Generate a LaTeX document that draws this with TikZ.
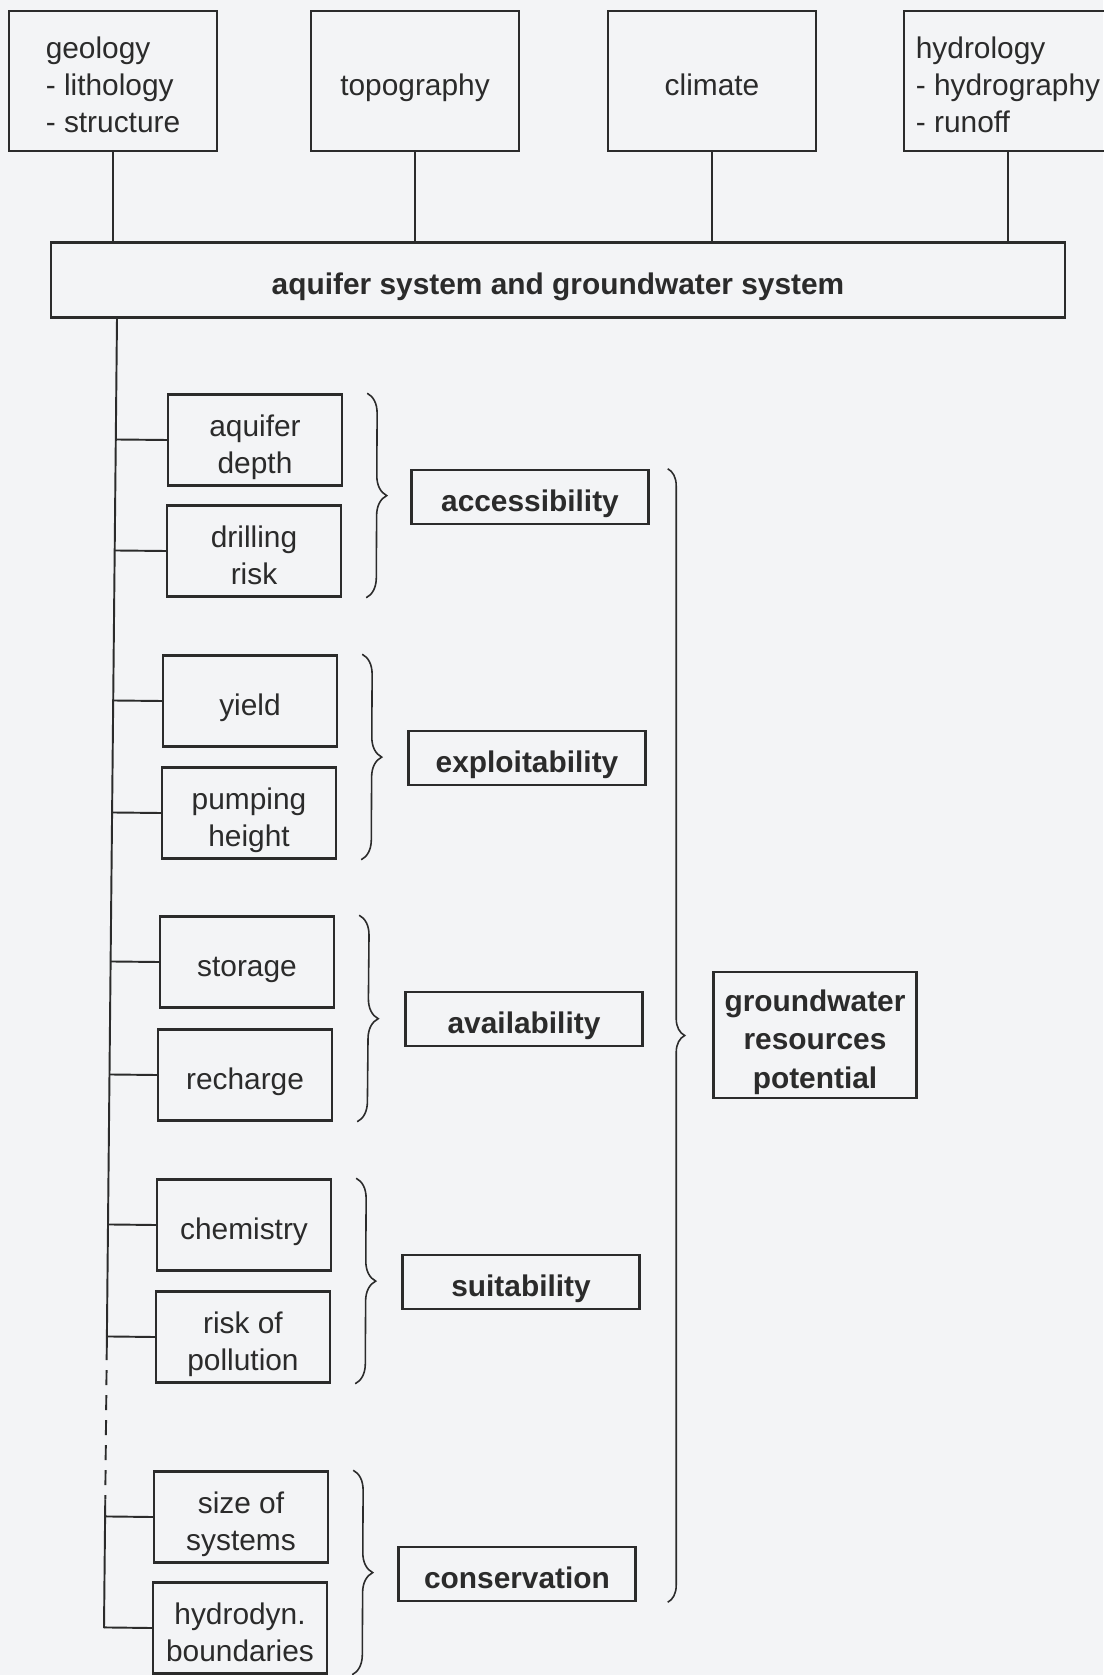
\documentclass[tikz,border=0pt]{standalone}
\usepackage{fontspec}
\setmainfont{Liberation Sans}
\usepackage{tikz}
\usetikzlibrary{calc,decorations.pathreplacing}
\definecolor{ink}{HTML}{2B2B2B}
\definecolor{paper}{HTML}{F3F4F6}
% struts: same baseline in every box
\newcommand{\lnup}{\rule{0pt}{20.4pt}}
\newcommand{\lndn}{\rule[-3.6pt]{0pt}{3.6pt}}
\tikzset{
  box/.style={draw=ink, line width=1.4pt, text=ink, inner sep=0pt, font=\fontsize{17}{21}\selectfont},
  topbox/.style={box, minimum width=4.16cm, minimum height=2.8cm, align=left},
  sysbox/.style={box, minimum width=20.28cm, minimum height=1.5cm, font=\fontsize{17}{21}\selectfont\bfseries},
  factor/.style={box, minimum width=3.48cm, minimum height=1.82cm, align=center},
  criterion/.style={box, minimum width=4.74cm, minimum height=1.08cm, font=\fontsize{17}{21}\selectfont\bfseries},
  result/.style={box, minimum width=4.06cm, minimum height=2.52cm, align=center, font=\fontsize{17}{22}\selectfont\bfseries},
  link/.style={draw=ink, line width=1.1pt},
  grpbrace/.style={draw=ink, line width=0.9pt, decorate, decoration={brace, amplitude=0.4cm}},
}

\begin{document}
\begin{tikzpicture}[x=0.02cm, y=-0.02cm]
\fill[paper] (0,0) rectangle (1103,1675);
\useasboundingbox (0,0) rectangle (1103,1675);

% influencing factors
\node[topbox] (geo) at (113,81) {\lnup geology\\- lithology\\- structure\lndn};
\node[topbox] (topo) at (415,81) {\lnup topography\lndn};
\node[topbox] (clim) at (712,81) {\lnup climate\lndn};
\node[topbox] (hydro) at (1008,81) {\lnup hydrology\\- hydrography\\- runoff\lndn};
\node[sysbox] (sys) at (558,280) {\lnup aquifer system and groundwater system\lndn};
\foreach \n in {geo,topo,clim,hydro}
  \draw[link] (\n.south) -- (\n.south |- sys.north);

% factors
\node[factor] (depth) at (255,440) {\lnup aquifer\\depth\lndn};
\node[factor] (drill) at (254,551) {\lnup drilling\\risk\lndn};
\node[factor] (yield) at (250,701) {\lnup yield\lndn};
\node[factor] (pump) at (249,813) {\lnup pumping\\height\lndn};
\node[factor] (stor) at (247,962) {\lnup storage\lndn};
\node[factor] (rech) at (245,1075) {\lnup recharge\lndn};
\node[factor] (chem) at (244,1225) {\lnup chemistry\lndn};
\node[factor] (poll) at (243,1337) {\lnup risk of\\pollution\lndn};
\node[factor] (size) at (241,1517) {\lnup size of\\systems\lndn};
\node[factor] (bound) at (240,1628) {\lnup hydrodyn.\\boundaries\lndn};

% criteria
\node[criterion] (acc) at (530,497) {\lnup accessibility\lndn};
\node[criterion] (expl) at (527,758) {\lnup exploitability\lndn};
\node[criterion] (avail) at (524,1019) {\lnup availability\lndn};
\node[criterion] (suit) at (521,1282) {\lnup suitability\lndn};
\node[criterion] (cons) at (517,1574) {\lnup conservation\lndn};
\node[result] (gwrp) at (815,1035) {\lnup groundwater\\resources\\potential\lndn};

% trunk line
\coordinate (trunktop) at (117,318);
\coordinate (trunkbot) at (104,1628);
\draw[link] (trunktop) -- ($(trunktop)!0.784!(trunkbot)$);
\draw[link, dash pattern=on 0.3cm off 0.2cm] ($(trunktop)!0.784!(trunkbot)$) -- ($(trunktop)!0.902!(trunkbot)$);
\draw[link] ($(trunktop)!0.902!(trunkbot)$) -- (trunkbot);
\foreach \n in {depth,drill,yield,pump,stor,rech,chem,poll,size,bound}
  \draw[link] (\n.west) -- ($(trunktop)!(\n.west)!(trunkbot)$);

% braces
\foreach \a/\b in {depth/drill,yield/pump,stor/rech,chem/poll,size/bound}
  \draw[grpbrace] ($(\a.north east)+(24,0)$) -- ($(\b.south east)+(24,0)$);
\draw[grpbrace, decoration={brace, amplitude=0.34cm}] ($(acc.north east)+(18,0)$) -- ($(acc.north east |- cons.south)+(18,0)$);
\end{tikzpicture}
\end{document}
